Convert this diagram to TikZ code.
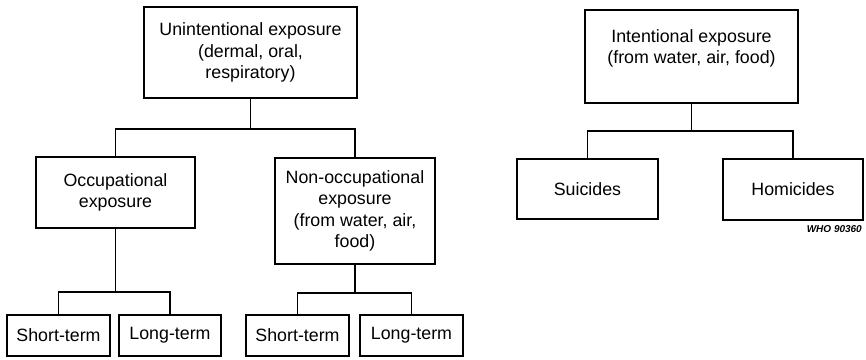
\documentclass[tikz,border=0pt]{standalone}
\usepackage{fontspec}
\setmainfont{Liberation Sans}
\begin{document}
\begin{tikzpicture}[x=1pt,y=-1pt,
  every node/.style={font=\fontsize{17.8}{21.5}\selectfont},
  box/.style={draw,line width=1.2pt,rectangle,inner sep=0pt,outer sep=0pt,align=center},
  conn/.style={line width=1.2pt}]
\useasboundingbox (0,0) rectangle (866,359);
% Unintentional tree
\node[box,minimum width=213pt,minimum height=91pt] (unint) at (250.5,52.5)
  {Unintentional exposure\\(dermal, oral,\\respiratory)};
\node[box,minimum width=159pt,minimum height=71pt] (occ) at (115.5,192.5)
  {Occupational\\exposure};
\node[box,minimum width=160pt,minimum height=106pt] (nonocc) at (355,211)
  {Non-occupational\\exposure\\(from water, air,\\food)};
\node[box,minimum width=103pt,minimum height=41pt] (st1) at (58.5,335.5) {Short-term};
\node[box,minimum width=102pt,minimum height=41pt] (lt1) at (170,335.5) {Long-term};
\node[box,minimum width=103pt,minimum height=41pt] (st2) at (297.5,335.5) {Short-term};
\node[box,minimum width=103pt,minimum height=41pt] (lt2) at (411.5,335.5) {Long-term};
\coordinate (j1) at (250.5,129);
\coordinate (j2) at (115.5,292);
\coordinate (j3) at (355,293);
\draw[conn] (unint.south) -- (j1);
\draw[conn] (occ.north) |- (j1) -| (nonocc.north);
\draw[conn] (occ.south) -- (j2);
\draw[conn] (st1.north) |- (j2) -| (lt1.north);
\draw[conn] (nonocc.south) -- (j3);
\draw[conn] (st2.north) |- (j3) -| (lt2.north);
% Intentional tree
\node[box,minimum width=213pt,minimum height=93pt] (intent) at (691.5,56.5) {};
\node[align=center,inner sep=0pt] (intenttxt) at (691.5,48.5)
  {Intentional exposure\\(from water, air, food)};
\node[box,minimum width=141pt,minimum height=60pt] (sui) at (587.5,189) {Suicides};
\node[box,minimum width=140pt,minimum height=61pt] (hom) at (793,189.5) {Homicides};
\coordinate (j4) at (691.5,131);
\draw[conn] (intent.south) -- (j4);
\draw[conn] (sui.north) |- (j4) -| (hom.north);
\node[anchor=base east,inner sep=0pt,font=\fontsize{10}{12}\selectfont\bfseries\itshape] (who) at (862,232) {WHO 90360};
\end{tikzpicture}
\end{document}
